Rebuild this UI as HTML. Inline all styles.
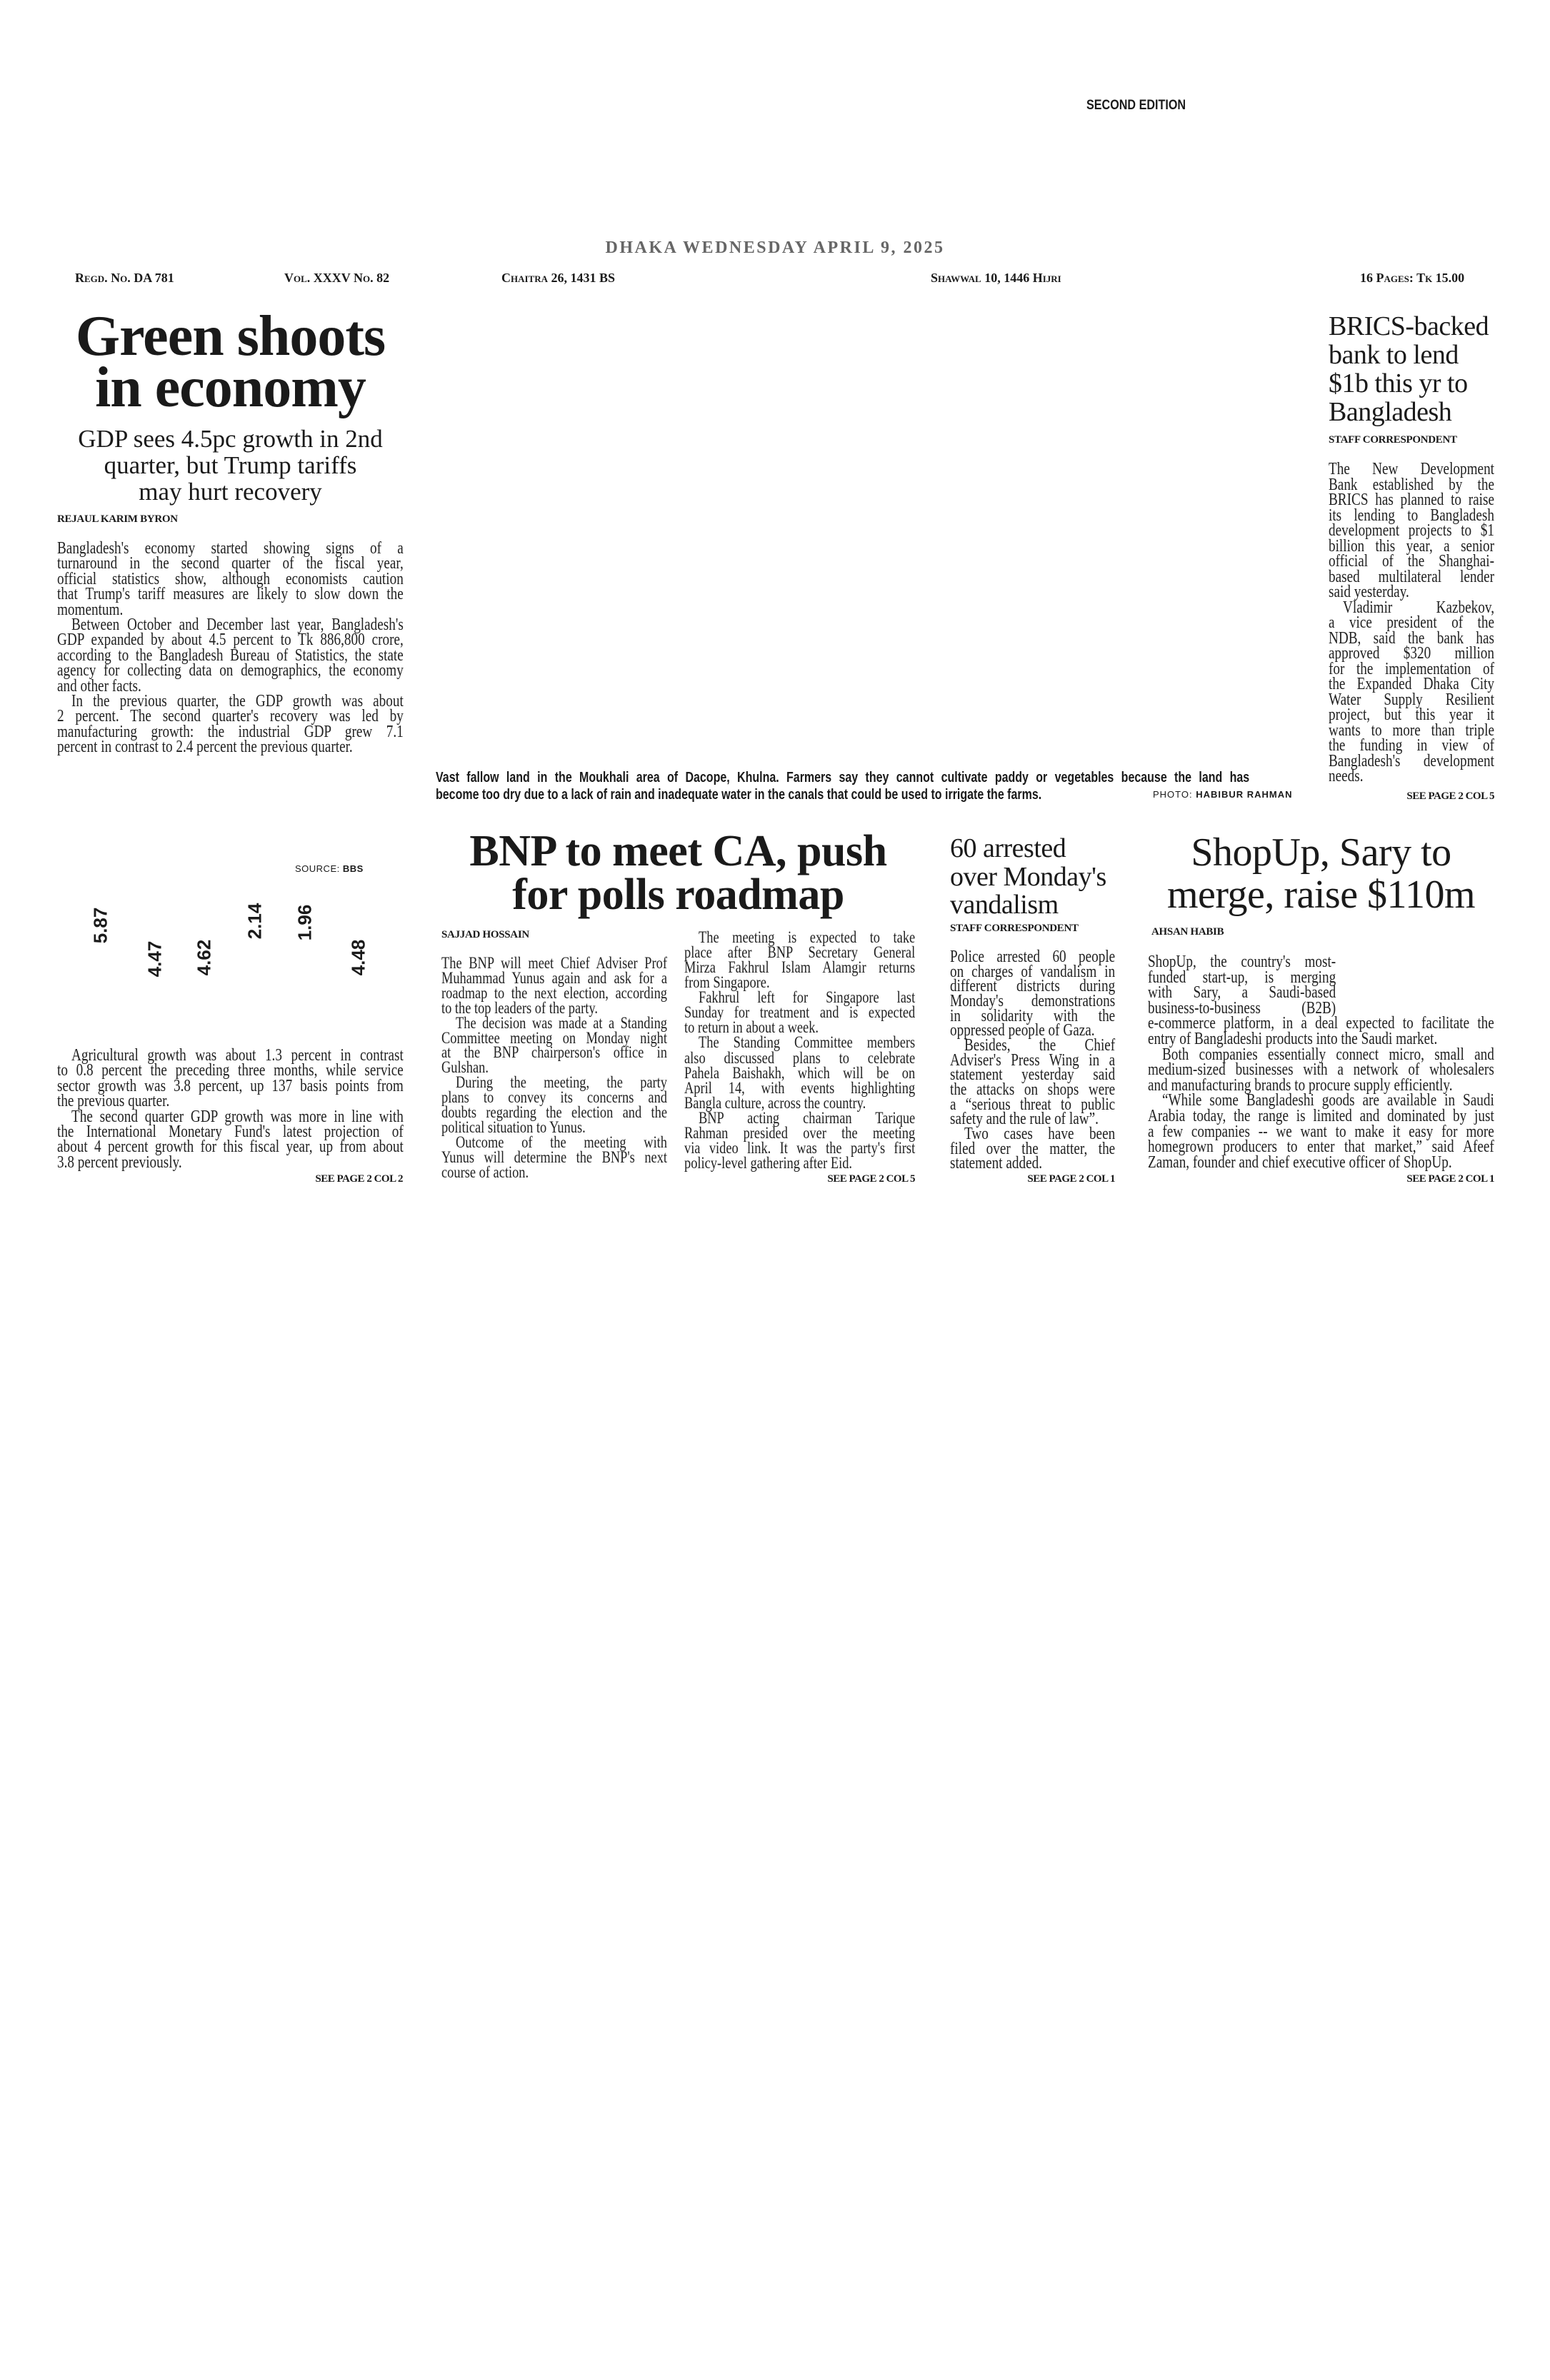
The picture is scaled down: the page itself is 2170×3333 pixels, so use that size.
<!DOCTYPE html>
<html><head><meta charset="utf-8">
<style>
html,body{margin:0;padding:0;background:#fff;}
body{width:2170px;height:3333px;position:relative;overflow:hidden;font-family:"Liberation Serif",serif;color:#1a1a1a;}
.a{position:absolute;white-space:nowrap;}
.blk{position:absolute;font-family:"Liberation Serif",serif;font-size:24px;color:#222;transform:scaleX(0.8);transform-origin:left top;}
.blk div{white-space:nowrap;text-align:justify;text-align-last:justify;}
.blk div.e{text-align-last:left;}
.blk div.i{padding-left:25px;}
.by{position:absolute;font-weight:bold;font-size:15px;line-height:16px;white-space:nowrap;letter-spacing:-0.3px;}
.see{position:absolute;font-weight:bold;font-size:15px;line-height:16px;white-space:nowrap;text-align:right;letter-spacing:-0.5px;}
.info{position:absolute;font-weight:bold;font-size:18px;font-variant:small-caps;top:379px;line-height:20px;white-space:nowrap;}
.num{position:absolute;font-family:"Liberation Sans",sans-serif;font-weight:bold;font-size:26px;transform:translate(-50%,-50%) rotate(-90deg);white-space:nowrap;}
</style></head><body>

<div class="a" style="left:1521px;top:137px;font-family:'Liberation Sans',sans-serif;font-weight:bold;font-size:19px;transform:scaleX(0.85);transform-origin:left;">SECOND EDITION</div>

<div class="a" style="left:0;width:2170px;text-align:center;top:333px;font-size:24px;font-weight:bold;letter-spacing:2.5px;color:#666;line-height:28px;">DHAKA WEDNESDAY APRIL 9, 2025</div>

<div class="info" style="left:105px;">Regd. No. DA 781</div>
<div class="info" style="left:398px;">Vol. XXXV No. 82</div>
<div class="info" style="left:702px;">Chaitra 26, 1431 BS</div>
<div class="info" style="left:1303px;">Shawwal 10, 1446 Hijri</div>
<div class="info" style="left:1904px;">16 Pages: Tk 15.00</div>

<!-- Green shoots -->
<div class="a" style="left:80px;width:485px;top:435px;text-align:center;font-size:80px;line-height:72px;font-weight:bold;letter-spacing:-1px;">Green shoots<br>in economy</div>
<div class="a" style="left:80px;width:485px;top:596px;text-align:center;font-size:35px;line-height:37px;">GDP sees 4.5pc growth in 2nd<br>quarter, but Trump tariffs<br>may hurt recovery</div>
<div class="by" style="left:80px;top:719px;">REJAUL KARIM BYRON</div>
<div class="blk" style="left:80px;top:758px;width:606px;line-height:21.4px;">
<div>Bangladesh's economy started showing signs of a</div>
<div>turnaround in the second quarter of the fiscal year,</div>
<div>official statistics show, although economists caution</div>
<div>that Trump's tariff measures are likely to slow down the</div>
<div class="e">momentum.</div>
<div class="i">Between October and December last year, Bangladesh's</div>
<div>GDP expanded by about 4.5 percent to Tk 886,800 crore,</div>
<div>according to the Bangladesh Bureau of Statistics, the state</div>
<div>agency for collecting data on demographics, the economy</div>
<div class="e">and other facts.</div>
<div class="i">In the previous quarter, the GDP growth was about</div>
<div>2 percent. The second quarter's recovery was led by</div>
<div>manufacturing growth: the industrial GDP grew 7.1</div>
<div class="e">percent in contrast to 2.4 percent the previous quarter.</div>
</div>

<!-- caption -->
<div class="a" style="left:610px;top:1077px;width:1424px;transform:scaleX(0.8);transform-origin:left top;font-family:'Liberation Sans',sans-serif;font-weight:bold;font-size:20px;line-height:24px;">
<div style="text-align:justify;text-align-last:justify;">Vast fallow land in the Moukhali area of Dacope, Khulna. Farmers say they cannot cultivate paddy or vegetables because the land has</div>
<div>become too dry due to a lack of rain and inadequate water in the canals that could be used to irrigate the farms.</div>
</div>
<div class="a" style="left:1614px;top:1105px;font-family:'Liberation Sans',sans-serif;font-size:13px;letter-spacing:1px;line-height:16px;">PHOTO: <b>HABIBUR RAHMAN</b></div>

<!-- BRICS -->
<div class="a" style="left:1860px;top:437px;font-size:38px;line-height:40px;letter-spacing:-0.5px;">BRICS-backed<br>bank to lend<br>$1b this yr to<br>Bangladesh</div>
<div class="by" style="left:1860px;top:608px;">STAFF CORRESPONDENT</div>
<div class="blk" style="left:1860px;top:647px;width:290px;line-height:21.5px;">
<div>The New Development</div>
<div>Bank established by the</div>
<div>BRICS has planned to raise</div>
<div>its lending to Bangladesh</div>
<div>development projects to $1</div>
<div>billion this year, a senior</div>
<div>official of the Shanghai-</div>
<div>based multilateral lender</div>
<div class="e">said yesterday.</div>
<div class="i">Vladimir Kazbekov,</div>
<div>a vice president of the</div>
<div>NDB, said the bank has</div>
<div>approved $320 million</div>
<div>for the implementation of</div>
<div>the Expanded Dhaka City</div>
<div>Water Supply Resilient</div>
<div>project, but this year it</div>
<div>wants to more than triple</div>
<div>the funding in view of</div>
<div>Bangladesh's development</div>
<div class="e">needs.</div>
</div>
<div class="see" style="left:1860px;width:232px;top:1107px;">SEE PAGE 2 COL 5</div>

<!-- chart -->
<div class="a" style="left:413px;top:1209px;font-family:'Liberation Sans',sans-serif;font-size:13px;letter-spacing:0.5px;">SOURCE: <b>BBS</b></div>
<div class="num" style="left:141px;top:1296px;">5.87</div>
<div class="num" style="left:217px;top:1343px;">4.47</div>
<div class="num" style="left:286px;top:1341px;">4.62</div>
<div class="num" style="left:357px;top:1290px;">2.14</div>
<div class="num" style="left:427px;top:1292px;">1.96</div>
<div class="num" style="left:502px;top:1341px;">4.48</div>

<div class="blk" style="left:80px;top:1468px;width:606px;line-height:21.4px;">
<div class="i">Agricultural growth was about 1.3 percent in contrast</div>
<div>to 0.8 percent the preceding three months, while service</div>
<div>sector growth was 3.8 percent, up 137 basis points from</div>
<div class="e">the previous quarter.</div>
<div class="i">The second quarter GDP growth was more in line with</div>
<div>the International Monetary Fund's latest projection of</div>
<div>about 4 percent growth for this fiscal year, up from about</div>
<div class="e">3.8 percent previously.</div>
</div>
<div class="see" style="left:80px;width:484px;top:1643px;">SEE PAGE 2 COL 2</div>

<!-- BNP -->
<div class="a" style="left:618px;width:663px;top:1162px;text-align:center;font-size:62px;line-height:61px;font-weight:bold;letter-spacing:-0.5px;">BNP to meet CA, push<br>for polls roadmap</div>
<div class="by" style="left:618px;top:1301px;">SAJJAD HOSSAIN</div>
<div class="blk" style="left:618px;top:1339px;width:395px;line-height:20.9px;font-size:23px;">
<div>The BNP will meet Chief Adviser Prof</div>
<div>Muhammad Yunus again and ask for a</div>
<div>roadmap to the next election, according</div>
<div class="e">to the top leaders of the party.</div>
<div class="i">The decision was made at a Standing</div>
<div>Committee meeting on Monday night</div>
<div>at the BNP chairperson's office in</div>
<div class="e">Gulshan.</div>
<div class="i">During the meeting, the party</div>
<div>plans to convey its concerns and</div>
<div>doubts regarding the election and the</div>
<div class="e">political situation to Yunus.</div>
<div class="i">Outcome of the meeting with</div>
<div>Yunus will determine the BNP's next</div>
<div class="e">course of action.</div>
</div>
<div class="blk" style="left:958px;top:1302px;width:404px;line-height:21.07px;font-size:23px;">
<div class="i">The meeting is expected to take</div>
<div>place after BNP Secretary General</div>
<div>Mirza Fakhrul Islam Alamgir returns</div>
<div class="e">from Singapore.</div>
<div class="i">Fakhrul left for Singapore last</div>
<div>Sunday for treatment and is expected</div>
<div class="e">to return in about a week.</div>
<div class="i">The Standing Committee members</div>
<div>also discussed plans to celebrate</div>
<div>Pahela Baishakh, which will be on</div>
<div>April 14, with events highlighting</div>
<div class="e">Bangla culture, across the country.</div>
<div class="i">BNP acting chairman Tarique</div>
<div>Rahman presided over the meeting</div>
<div>via video link. It was the party's first</div>
<div class="e">policy-level gathering after Eid.</div>
</div>
<div class="see" style="left:958px;width:323px;top:1643px;">SEE PAGE 2 COL 5</div>

<!-- 60 arrested -->
<div class="a" style="left:1330px;top:1169px;font-size:38px;line-height:39.5px;letter-spacing:-0.5px;">60 arrested<br>over Monday's<br>vandalism</div>
<div class="by" style="left:1330px;top:1292px;">STAFF CORRESPONDENT</div>
<div class="blk" style="left:1330px;top:1330px;width:289px;line-height:20.65px;">
<div>Police arrested 60 people</div>
<div>on charges of vandalism in</div>
<div>different districts during</div>
<div>Monday's demonstrations</div>
<div>in solidarity with the</div>
<div class="e">oppressed people of Gaza.</div>
<div class="i">Besides, the Chief</div>
<div>Adviser's Press Wing in a</div>
<div>statement yesterday said</div>
<div>the attacks on shops were</div>
<div>a “serious threat to public</div>
<div class="e">safety and the rule of law”.</div>
<div class="i">Two cases have been</div>
<div>filed over the matter, the</div>
<div class="e">statement added.</div>
</div>
<div class="see" style="left:1330px;width:231px;top:1643px;">SEE PAGE 2 COL 1</div>

<!-- ShopUp -->
<div class="a" style="left:1607px;width:485px;top:1165px;text-align:center;font-size:56px;line-height:59px;letter-spacing:-0.5px;">ShopUp, Sary to<br>merge, raise $110m</div>
<div class="by" style="left:1612px;top:1297px;">AHSAN HABIB</div>
<div class="blk" style="left:1607px;top:1337px;width:606px;line-height:21.6px;">
<div style="width:329px;">ShopUp, the country's most-</div>
<div style="width:329px;">funded start-up, is merging</div>
<div style="width:329px;">with Sary, a Saudi-based</div>
<div style="width:329px;">business-to-business (B2B)</div>
<div>e-commerce platform, in a deal expected to facilitate the</div>
<div class="e">entry of Bangladeshi products into the Saudi market.</div>
<div class="i">Both companies essentially connect micro, small and</div>
<div>medium-sized businesses with a network of wholesalers</div>
<div class="e">and manufacturing brands to procure supply efficiently.</div>
<div class="i">“While some Bangladeshi goods are available in Saudi</div>
<div>Arabia today, the range is limited and dominated by just</div>
<div>a few companies -- we want to make it easy for more</div>
<div>homegrown producers to enter that market,” said Afeef</div>
<div class="e">Zaman, founder and chief executive officer of ShopUp.</div>
</div>
<div class="see" style="left:1607px;width:485px;top:1643px;">SEE PAGE 2 COL 1</div>

</body></html>
